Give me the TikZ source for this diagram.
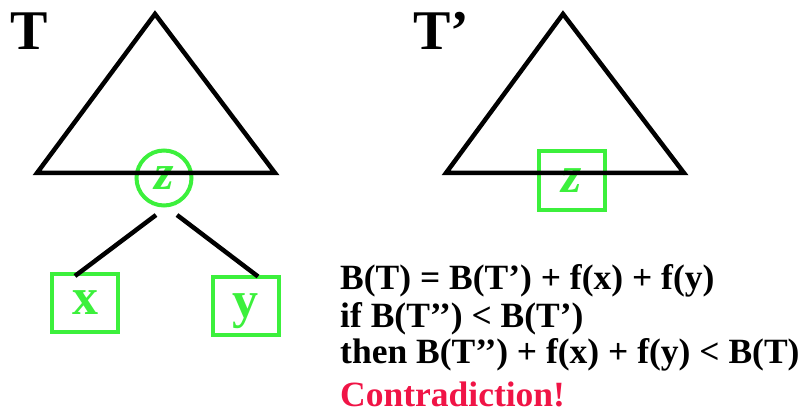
\documentclass[tikz,border=0pt]{standalone}
\usepackage{fontspec}
\setmainfont{Liberation Serif}
\usepackage{xcolor}
\definecolor{nodegreen}{HTML}{3CF03C}
\definecolor{contrared}{HTML}{F01446}
\usepackage{tikz}
\usetikzlibrary{positioning,calc}

\begin{document}
\begin{tikzpicture}[
        x=1pt, y=-1pt,
        tree/.style={line width=4.5pt, line join=miter},
        edge/.style={line width=4.5pt},
        leaf/.style={draw=nodegreen, line width=4pt, inner sep=0pt, text=nodegreen, text depth=0pt,
            minimum width=66pt, minimum height=58pt, font=\fontsize{52}{52}\selectfont\bfseries},
        root/.style={leaf, circle, minimum width=55pt, minimum height=55pt, font=\fontsize{50}{50}\selectfont\bfseries\itshape},
        title/.style={anchor=base west, inner sep=0pt, font=\fontsize{56}{56}\selectfont\bfseries},
        eqn/.style={anchor=base west, inner sep=0pt, font=\fontsize{35.5}{35.5}\selectfont\bfseries},
    ]
    \useasboundingbox (0,0) rectangle (806,414);

    % === Tree T ===
    \node[title] (tlabel) at (10,50) {T};
    \node[root] (z) at (164,178) {z};
    \node[leaf] (x) at (85,303) {x};
    \node[leaf] (y) at (245.5,305.5) {y};
    \draw[edge] ($(z.center)+(-8,37)$) -- ($(x.north)+(-10,4)$);
    \draw[edge] ($(z.center)+(13,37)$) -- ($(y.north)+(12.5,2)$);
    \draw[tree] (37,173) -- (155,14) -- (275,173) -- cycle;

    % === Tree T' ===
    \node[title] (tplabel) at (413,50) {T’};
    \node[leaf, minimum height=59pt] (zp) at (572,180.5) {\itshape z};
    \draw[tree] (446,173) -- (563,14) -- (684,173) -- cycle;

    % === Argument ===
    \node[eqn] (line1) at (340,289) {B(T) = B(T’) + f(x) + f(y)};
    \node[eqn] (line2) at (340,327) {if B(T’{}’) < B(T’)};
    \node[eqn] (line3) at (340,363) {then B(T’{}’) + f(x) + f(y) < B(T)};
    \node[eqn, text=contrared] (contra) at (340,406) {Contradiction!};

\end{tikzpicture}
\end{document}
